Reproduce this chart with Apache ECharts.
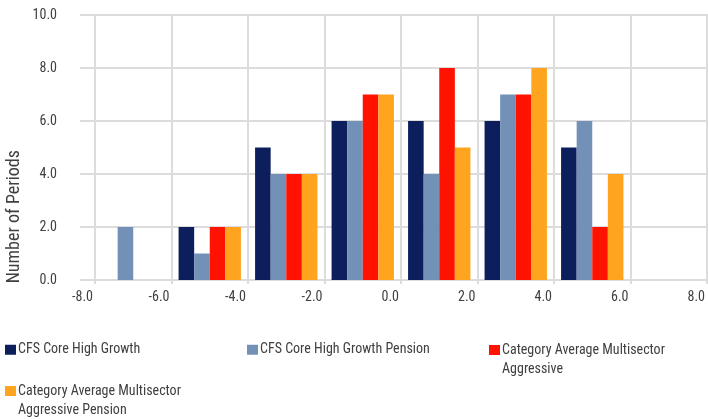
<!DOCTYPE html>
<html><head><meta charset="utf-8">
<script src="https://cdn.jsdelivr.net/npm/echarts@6/dist/echarts.min.js"></script>
<style>html,body{margin:0;padding:0;background:#fff}#c{width:708px;height:420px}</style>
</head><body><div id="c"></div>
<script>
const binCenters = [-7, -5, -3, -1, 1, 3, 5, 7];
const xTicks = [-8, -6, -4, -2, 0, 2, 4, 6, 8];
const seriesNames = ['CFS Core High Growth', 'CFS Core High Growth Pension', 'Category Average Multisector Aggressive', 'Category Average Multisector Aggressive Pension'];
const cfsCore = [0, 2, 5, 6, 6, 6, 5, 0];
const cfsPension = [2, 1, 4, 6, 4, 7, 6, 0];
const catAvg = [0, 2, 4, 7, 8, 7, 2, 0];
const catAvgPension = [0, 2, 4, 7, 5, 8, 4, 0];
const colors = ['#0c1e5c', '#7390b6', '#ff1200', '#ffa41f'];

const FONT = "'Liberation Sans Narrow', 'Roboto Condensed', 'DejaVu Sans Condensed', 'Arial Narrow', Roboto, sans-serif";
const GRID = '#dcdcdc';
const allVals = [cfsCore, cfsPension, catAvg, catAvgPension];

const chart = echarts.init(document.getElementById('c'), null, {renderer: 'canvas'});
const legendPos = [
  {left: 5, top: 340, name: seriesNames[0], fmt: 'CFS Core High Growth'},
  {left: 247, top: 340, name: seriesNames[1], fmt: 'CFS Core High Growth Pension'},
  {left: 489, top: 320.75, name: seriesNames[2], fmt: '\u00a0\nCategory Average Multisector\nAggressive'},
  {left: 5, top: 361.75, name: seriesNames[3], fmt: '\u00a0\nCategory Average Multisector\nAggressive Pension'}
];
chart.setOption({
  animation: false,
  color: colors,
  grid: [
    {left: 80, right: -5, top: 15, bottom: 140},
    {left: 95, right: -5, top: 15, bottom: 140}
  ],
  xAxis: [
    {gridIndex: 0, type: 'value', min: -8, max: 8, show: false},
    {gridIndex: 1, type: 'value', min: xTicks[0], max: xTicks[xTicks.length - 1], interval: 2,
     axisLine: {show: false},
     axisTick: {show: true, length: 4, lineStyle: {color: GRID, width: 2}},
     splitLine: {show: true, lineStyle: {color: GRID, width: 2}},
     axisLabel: {align: 'right', margin: 10, padding: [0, 2, 0, 0], color: '#404040', fontFamily: FONT, fontSize: 14,
       formatter: v => v.toFixed(1), showMinLabel: true, showMaxLabel: true}}
  ],
  yAxis: [
    {gridIndex: 0, type: 'value', min: 0, max: 10, interval: 2,
     axisLine: {show: false}, axisTick: {show: false},
     splitLine: {show: true, lineStyle: {color: GRID, width: 2}},
     axisLabel: {margin: 23, color: '#404040', fontFamily: FONT, fontSize: 14, formatter: v => v.toFixed(1)}},
    {gridIndex: 1, type: 'value', min: 0, max: 10, interval: 2, show: false}
  ],
  legend: legendPos.map(p => ({
    left: p.left, top: p.top, orient: 'horizontal', data: [p.name], padding: 0,
    itemWidth: 11, itemHeight: 10, icon: 'rect', itemGap: 0,
    formatter: () => p.fmt,
    textStyle: {fontFamily: FONT, fontSize: 14, color: '#404040', lineHeight: 19.5, padding: [0, 0, 0, -3]}
  })),
  graphic: [{
    type: 'text', left: 5, top: 150, rotation: Math.PI / 2,
    style: {text: 'Number of Periods', fontFamily: FONT, fontSize: 18, fill: '#404040'}
  }],
  series: seriesNames.map((n, i) => ({
    name: n, type: 'bar', xAxisIndex: 1, yAxisIndex: 1,
    barGap: 0, barCategoryGap: '18.5%',
    data: binCenters.map((c, j) => [c, allVals[i][j]]),
    itemStyle: {color: colors[i]}
  }))
});
</script></body></html>
